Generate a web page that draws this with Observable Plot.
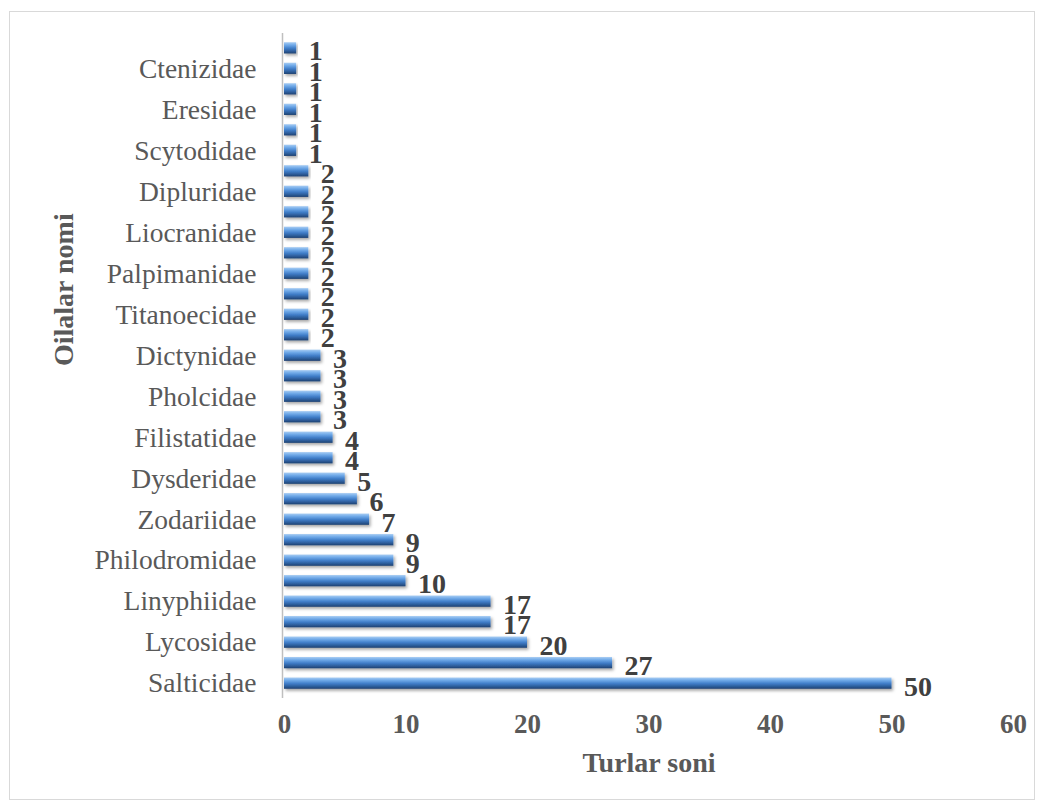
<!DOCTYPE html>
<html>
<head>
<meta charset="utf-8">
<script src="https://cdn.jsdelivr.net/npm/d3@7"></script>
<script src="https://cdn.jsdelivr.net/npm/@observablehq/plot@0.6"></script>
<style>
  html, body { margin: 0; padding: 0; background: #fff; }
  #wrap { position: relative; width: 1044px; height: 809px; }
  #frame { position: absolute; left: 9px; top: 11px; width: 1026px; height: 789px; border: 1px solid #d9d9d9; box-sizing: border-box; pointer-events: none; }
  #chart { position: absolute; left: 0; top: 0; }
</style>
</head>
<body>
<div id="wrap"><div id="frame"></div><div id="chart"></div></div>
<script>
// Families, top to bottom (only every other one is labelled on the axis)
const families = [
  "Atypidae", "Ctenizidae", "Zoropsidae", "Eresidae", "Mimetidae", "Scytodidae",
  "Hahniidae", "Dipluridae", "Sparassidae", "Liocranidae", "Oecobiidae", "Palpimanidae",
  "Uloboridae", "Titanoecidae", "Miturgidae", "Dictynidae", "Tetragnathidae", "Pholcidae",
  "Clubionidae", "Filistatidae", "Agelenidae", "Dysderidae", "Oxyopidae", "Zodariidae",
  "Theridiidae", "Philodromidae", "Thomisidae", "Linyphiidae", "Araneidae", "Lycosidae",
  "Gnaphosidae", "Salticidae"
];
const counts = [
  1, 1, 1, 1, 1, 1,
  2, 2, 2, 2, 2, 2,
  2, 2, 2, 3, 3, 3,
  3, 4, 4, 5, 6, 7,
  9, 9, 10, 17, 17, 20,
  27, 50
];
const yTickLabels = [
  "Ctenizidae", "Eresidae", "Scytodidae", "Dipluridae", "Liocranidae", "Palpimanidae",
  "Titanoecidae", "Dictynidae", "Pholcidae", "Filistatidae", "Dysderidae", "Zodariidae",
  "Philodromidae", "Linyphiidae", "Lycosidae", "Salticidae"
];
const xTicks = [0, 10, 20, 30, 40, 50, 60];
const xTitle = "Turlar soni";
const yTitle = "Oilalar nomi";

const data = families.map((f, i) => ({family: f, count: counts[i]}));
const serif = "'Liberation Serif', 'Times New Roman', Times, serif";

const chart = Plot.plot({
  width: 1044,
  height: 809,
  marginLeft: 284,
  marginRight: 31,
  marginTop: 33,
  marginBottom: 111,
  style: {fontFamily: serif, color: "#595959", background: "transparent"},
  x: {domain: [0, 60]},
  y: {type: "band", domain: families, paddingInner: 0.45, paddingOuter: 0.45, round: false},
  marks: [
    Plot.ruleX([0], {stroke: "#bfbfbf", strokeWidth: 1.5, dx: -2}),
    Plot.barX(data, {
      x: "count", y: "family",
      fill: "url(#barGrad)"
    }),
    Plot.text(data, {
      x: "count", y: "family", text: d => String(d.count),
      textAnchor: "start", dx: 12, dy: 3,
      fontSize: 28, fontWeight: "bold", fill: "#404040"
    }),
    Plot.axisX({
      ticks: xTicks, tickSize: 0, tickPadding: 15, fontSize: 27,
      fontWeight: "bold", label: null
    }),
    Plot.axisY({
      ticks: yTickLabels, tickSize: 0, tickPadding: 28, fontSize: 27.5,
      label: null
    }),
    Plot.text([xTitle], {
      text: d => d, frameAnchor: "bottom", dy: 73,
      fontSize: 28, fontWeight: "bold", fill: "#595959"
    }),
    Plot.text([yTitle], {
      text: d => d, frameAnchor: "left", dx: -220, rotate: -90,
      fontSize: 28, fontWeight: "bold", fill: "#595959"
    })
  ]
});

// gradient + shadow for the 3D-looking bars
const svg = d3.select(chart);
const defs = svg.insert("defs", ":first-child");
const g = defs.append("linearGradient")
  .attr("id", "barGrad").attr("x1", 0).attr("y1", 0).attr("x2", 0).attr("y2", 1);
[["0%", "#a9cdf3"], ["25%", "#6fa9e8"], ["55%", "#3f7cc7"], ["80%", "#2c5c99"], ["100%", "#1f4170"]]
  .forEach(([o, c]) => g.append("stop").attr("offset", o).attr("stop-color", c));
const f = defs.append("filter").attr("id", "barShadow")
  .attr("x", "-5%").attr("y", "-50%").attr("width", "115%").attr("height", "220%");
f.append("feDropShadow").attr("dx", 1.5).attr("dy", 2).attr("stdDeviation", 1.5)
  .attr("flood-color", "#000").attr("flood-opacity", 0.35);
svg.selectAll("rect").filter(function() { return this.getAttribute("fill") === "url(#barGrad)" || (this.parentNode && this.parentNode.getAttribute("fill") === "url(#barGrad)"); })
  .attr("filter", "url(#barShadow)");

document.getElementById("chart").appendChild(chart);
</script>
</body>
</html>
